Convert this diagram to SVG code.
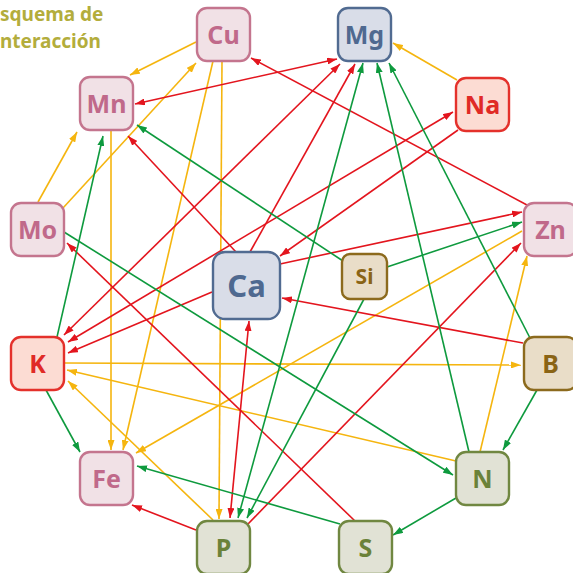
<svg xmlns="http://www.w3.org/2000/svg" width="573" height="573" viewBox="0 0 573 573">
<defs>
<marker id="ao" markerUnits="userSpaceOnUse" markerWidth="10" markerHeight="7" refX="10" refY="3.5" orient="auto-start-reverse"><path d="M0,0 L10,3.5 L0,7 z" fill="#f5b50f"/></marker>
<marker id="ar" markerUnits="userSpaceOnUse" markerWidth="10" markerHeight="7" refX="10" refY="3.5" orient="auto-start-reverse"><path d="M0,0 L10,3.5 L0,7 z" fill="#e3151e"/></marker>
<marker id="ag" markerUnits="userSpaceOnUse" markerWidth="10" markerHeight="7" refX="10" refY="3.5" orient="auto-start-reverse"><path d="M0,0 L10,3.5 L0,7 z" fill="#0e9a3e"/></marker>
</defs>
<style>
.o{stroke:#f5b50f;stroke-width:1.6;fill:none;marker-end:url(#ao)}
.r{stroke:#e3151e;stroke-width:1.6;fill:none;marker-end:url(#ar)}
.g{stroke:#0e9a3e;stroke-width:1.6;fill:none;marker-end:url(#ag)}
.rb{marker-start:url(#ar)}
.gb{marker-start:url(#ag)}
.n rect{stroke-width:2.4}
.n text{font-family:"Noto Sans","Open Sans","DejaVu Sans",sans-serif;font-weight:700;font-size:25px;text-anchor:middle}
.pink rect{fill:#f1e1e6;stroke:#c4758e}
.pink text{fill:#c0698a}
.blue rect{fill:#d9dde8;stroke:#516b91}
.blue text{fill:#4f6990}
.red rect{fill:#fcdcd3;stroke:#e4312b}
.red text{fill:#e02a26}
.brown rect{fill:#e9ddc8;stroke:#8c6a1d}
.brown text{fill:#8a6416}
.olive rect{fill:#e1e2d5;stroke:#708741}
.olive text{fill:#6b8239}
.title{font-family:"Noto Sans","Open Sans",sans-serif;font-weight:700;font-size:19px;fill:#b3ad3c}
</style>
<g id="title">
<text class="title" x="0" y="21">squema de</text>
<text class="title" x="0" y="48">nteracción</text>
</g>
<g id="connectors">
<line class="o" x1="196" y1="42" x2="130" y2="75"/>
<line class="o" x1="63" y1="208" x2="196" y2="63"/>
<line class="o" x1="38" y1="202" x2="77" y2="132"/>
<line class="o" x1="111" y1="131" x2="111" y2="450"/>
<line class="o" x1="213" y1="61" x2="123" y2="450"/>
<line class="o" x1="222" y1="61" x2="219" y2="519"/>
<line class="o" x1="457" y1="80" x2="393" y2="43"/>
<line class="o" x1="65" y1="363" x2="521" y2="365"/>
<line class="o" x1="456" y1="461" x2="67" y2="370"/>
<line class="o" x1="213" y1="520" x2="68" y2="381"/>
<line class="o" x1="480" y1="452" x2="527" y2="256"/>
<line class="o" x1="522" y1="231" x2="136" y2="453"/>
<line class="r rb" x1="135" y1="104" x2="337" y2="59"/>
<line class="r" x1="527" y1="205" x2="251" y2="58"/>
<line class="r" x1="250" y1="252" x2="355" y2="64"/>
<line class="r rb" x1="64" y1="335" x2="340" y2="64"/>
<line class="r rb" x1="68" y1="342" x2="453" y2="112"/>
<line class="r" x1="458" y1="130" x2="280" y2="256"/>
<line class="r" x1="212" y1="292" x2="68" y2="353"/>
<line class="r" x1="280" y1="264" x2="522" y2="212"/>
<line class="r" x1="523" y1="343" x2="282" y2="298"/>
<line class="r" x1="248" y1="524" x2="521" y2="243"/>
<line class="r" x1="236" y1="252" x2="128" y2="136"/>
<line class="r" x1="355" y1="521" x2="67" y2="243"/>
<line class="r" x1="196" y1="530" x2="132" y2="505"/>
<line class="r rb" x1="249" y1="321" x2="230" y2="518"/>
<line class="g" x1="343" y1="261" x2="137" y2="125"/>
<line class="g" x1="387" y1="267" x2="522" y2="222"/>
<line class="g" x1="364" y1="299" x2="247" y2="518"/>
<line class="g gb" x1="363" y1="63" x2="238" y2="518"/>
<line class="g" x1="469" y1="452" x2="377" y2="63"/>
<line class="g" x1="530" y1="338" x2="389" y2="63"/>
<line class="g" x1="64" y1="232" x2="453" y2="475"/>
<line class="g" x1="46" y1="390" x2="80" y2="452"/>
<line class="g" x1="340" y1="524" x2="137" y2="466"/>
<line class="g" x1="456" y1="498" x2="393" y2="535"/>
<line class="g" x1="537" y1="390" x2="503" y2="450"/>
<line class="g" x1="57" y1="337" x2="103" y2="136"/>
</g>
<g id="Cu" class="n pink"><rect x="197" y="8" width="53" height="53" rx="10"/><text x="223.5" y="43.5">Cu</text></g>
<g id="Mg" class="n blue"><rect x="338" y="8" width="53" height="53" rx="10"/><text x="364.5" y="43.5">Mg</text></g>
<g id="Na" class="n red"><rect x="456" y="78" width="53" height="53" rx="10"/><text x="482.5" y="113.5">Na</text></g>
<g id="Mn" class="n pink"><rect x="80" y="77" width="53" height="53" rx="10"/><text x="106.5" y="112.5">Mn</text></g>
<g id="Mo" class="n pink"><rect x="11" y="203" width="53" height="53" rx="10"/><text x="37.5" y="238.5">Mo</text></g>
<g id="K" class="n red"><rect x="11" y="337" width="53" height="53" rx="10"/><text x="37.5" y="372.5">K</text></g>
<g id="Zn" class="n pink"><rect x="524" y="203" width="53" height="53" rx="10"/><text x="550.5" y="238.5">Zn</text></g>
<g id="B" class="n brown"><rect x="524" y="337" width="53" height="53" rx="10"/><text x="550.5" y="372.5">B</text></g>
<g id="Fe" class="n pink"><rect x="80" y="452" width="53" height="53" rx="10"/><text x="106.5" y="487.5">Fe</text></g>
<g id="P" class="n olive"><rect x="197" y="521" width="53" height="53" rx="10"/><text x="223.5" y="556.5">P</text></g>
<g id="N" class="n olive"><rect x="456" y="452" width="53" height="53" rx="10"/><text x="482.5" y="487.5">N</text></g>
<g id="S" class="n olive"><rect x="339" y="521" width="53" height="53" rx="10"/><text x="365.5" y="556.5">S</text></g>
<g id="Ca" class="n blue"><rect x="213" y="252" width="67" height="67" rx="12"/><text x="246.5" y="296.5" style="font-size:31px">Ca</text></g>
<g id="Si" class="n brown"><rect x="342" y="254" width="45" height="45" rx="8"/><text x="364.5" y="284" style="font-size:21px">Si</text></g>
</svg>
